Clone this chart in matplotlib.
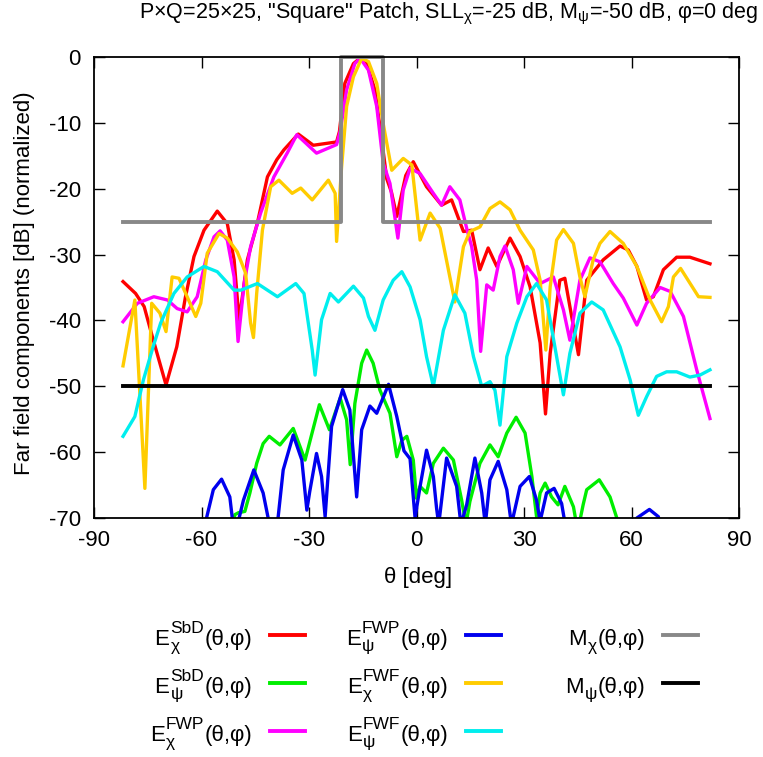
import matplotlib
matplotlib.use("Agg")
import matplotlib.pyplot as plt
from matplotlib.lines import Line2D

plt.rcParams['font.family'] = ['Liberation Sans', 'DejaVu Sans']
plt.rcParams['mathtext.fontset'] = 'custom'
plt.rcParams['mathtext.rm'] = 'Liberation Sans'
plt.rcParams['mathtext.it'] = 'Liberation Sans'
plt.rcParams['axes.unicode_minus'] = False

# far field cuts, theta [deg] vs normalized level [dB]
th_chi_sbd = [-81.9, -78.4, -76.0, -73.7, -69.9, -66.9, -64.5, -62.1, -59.3, -55.6, -52.8, -50.9,
              -49.5, -47.2, -44.4, -41.6, -39.0, -37.0, -33.0, -28.8, -22.3, -21.5, -20.0, -17.6,
              -15.8, -13.9, -11.6, -9.7, -8.3, -7.0, -5.5, -3.0, -0.9, 2.8, 7.0, 9.8, 13.1, 15.4,
              17.7, 20.0, 22.4, 26.1, 28.9, 31.7, 34.5, 36.0, 37.3, 40.0, 41.4, 45.2, 47.5, 52.1,
              56.8, 59.1, 61.5, 64.2, 66.1, 68.9, 72.6, 76.3, 81.9]
db_chi_sbd = [-34.1, -35.9, -37.9, -42.5, -49.8, -44.0, -36.5, -30.3, -26.3, -23.4, -25.3, -30.8,
              -40.0, -30.8, -25.2, -18.2, -15.6, -14.1, -11.7, -13.4, -12.9, -11.3, -4.0, -1.0,
              -0.2, -1.0, -5.0, -12.6, -18.5, -20.5, -24.2, -18.0, -15.9, -19.7, -22.5, -21.7, -26.5,
              -26.3, -32.3, -29.0, -31.8, -27.5, -30.3, -34.9, -43.4, -54.2, -45.0, -33.9, -33.6,
              -45.2, -33.9, -30.8, -28.7, -29.3, -31.8, -36.9, -36.4, -32.3, -30.4, -30.4, -31.4]

th_psi_sbd = [-52.0, -50.7, -49.7, -47.9, -46.5, -44.6, -42.8, -41.1, -38.1, -34.4, -31.1, -27.1,
              -24.3, -21.3, -19.5, -18.5, -17.2, -15.3, -13.9, -12.1, -10.2, -7.4, -5.5, -4.1, -2.7,
              -0.9, 0.0, 1.0, 2.8, 4.7, 7.5, 10.3, 12.6, 13.8, 14.9, 17.7, 20.5, 22.8, 25.2, 27.8,
              30.3, 32.2, 33.5, 34.5, 35.9, 37.7, 39.5, 41.4, 43.8, 45.0, 46.5, 47.5, 51.0, 54.0,
              55.9, 57.0]
db_psi_sbd = [-74.0, -69.5, -69.2, -69.0, -66.2, -61.7, -58.7, -57.6, -58.9, -56.4, -61.2, -52.8,
              -56.6, -51.8, -55.1, -61.9, -52.6, -46.5, -44.5, -46.5, -50.6, -54.1, -60.7, -58.2,
              -57.6, -61.2, -67.0, -65.2, -66.2, -61.7, -59.4, -61.2, -67.3, -71.0, -67.5, -61.7,
              -58.9, -60.7, -57.1, -54.7, -57.1, -63.7, -69.8, -66.2, -64.7, -66.8, -68.0, -65.2,
              -68.3, -72.0, -68.0, -65.7, -64.2, -66.8, -70.0, -75.0]

th_chi_fwp = [-81.9, -77.9, -73.3, -69.5, -66.8, -64.0, -61.2, -58.8, -56.5, -54.8, -52.8, -50.9,
              -49.8, -48.1, -46.3, -43.5, -39.8, -36.1, -33.4, -27.9, -22.3, -21.3, -19.5, -17.2,
              -15.7, -13.4, -11.1, -9.3, -7.4, -5.2, -3.7, -1.8, 1.0, 4.7, 7.0, 9.3, 12.1, 14.0,
              15.4, 16.8, 17.9, 19.6, 21.4, 23.3, 24.7, 27.0, 28.4, 30.8, 34.5, 38.2, 41.0, 42.8,
              45.6, 48.4, 51.2, 54.9, 57.7, 61.5, 64.2, 68.0, 70.8, 74.5, 78.2, 81.9]
db_chi_fwp = [-40.2, -37.4, -36.4, -36.9, -38.2, -38.7, -36.4, -30.8, -27.3, -26.4, -27.8, -33.4,
              -43.2, -34.4, -28.8, -23.7, -18.2, -14.6, -11.8, -14.6, -13.3, -11.3, -5.0, -1.0,
              -0.2, -2.0, -7.5, -16.1, -19.2, -27.5, -20.2, -16.9, -17.7, -20.7, -22.5, -19.7,
              -21.7, -26.0, -28.8, -33.9, -44.7, -34.6, -35.4, -30.3, -28.7, -32.3, -37.4, -31.8,
              -34.4, -33.4, -38.4, -43.0, -33.9, -30.5, -31.1, -34.4, -36.6, -40.7, -37.4, -35.0,
              -35.6, -39.4, -47.5, -54.9]

th_psi_fwp = [-60.0, -58.6, -56.7, -54.4, -52.1, -51.3, -50.5, -49.5, -48.3, -45.4, -42.8, -41.4,
              -40.0, -38.6, -37.2, -34.4, -32.0, -30.6, -29.8, -27.9, -26.5, -25.5, -23.7, -20.6,
              -18.6, -16.7, -15.3, -13.0, -11.1, -7.8, -5.5, -3.5, -1.8, -0.4, 1.0, 2.8, 4.7, 5.6,
              6.2, 8.4, 11.2, 12.4, 14.0, 16.3, 18.2, 19.2, 20.5, 22.8, 25.2, 26.5, 28.9, 31.5,
              33.5, 34.5, 36.3, 38.4, 40.5, 41.5, 43.0, 58.0, 61.5, 65.0, 67.5, 69.0, 81.9]
db_psi_fwp = [-76.0, -70.0, -65.7, -64.1, -66.8, -70.5, -72.0, -70.0, -67.3, -62.7, -66.2, -70.0,
              -73.0, -69.8, -62.7, -57.4, -61.2, -68.8, -66.0, -60.2, -63.7, -69.8, -56.1, -50.5,
              -53.6, -66.8, -56.6, -53.0, -54.1, -49.7, -54.6, -59.8, -61.0, -70.0, -65.2, -59.7,
              -63.7, -68.5, -71.0, -60.9, -65.2, -71.0, -68.0, -60.9, -66.2, -71.0, -64.2, -61.4,
              -65.7, -71.0, -65.2, -63.7, -67.3, -70.5, -66.2, -65.5, -67.8, -71.0, -76.0, -76.0,
              -70.0, -68.7, -69.8, -76.0, -78.0]

th_chi_fwf = [-81.9, -78.6, -75.8, -73.9, -71.6, -69.9, -68.2, -66.3, -64.0, -61.6, -60.2, -58.4,
              -55.1, -52.8, -50.0, -47.7, -46.3, -45.5, -44.6, -43.0, -40.7, -38.4, -34.7, -32.3,
              -29.1, -24.6, -22.7, -22.3, -20.9, -19.5, -17.6, -15.3, -13.4, -11.1, -9.3, -6.9,
              -3.7, -1.3, 1.0, 3.8, 6.6, 8.9, 10.7, 13.1, 14.9, 17.7, 20.5, 23.3, 26.1, 28.9, 32.6,
              34.5, 36.1, 37.3, 39.1, 41.0, 43.8, 45.6, 47.0, 49.3, 51.2, 54.0, 57.7, 61.5, 65.2,
              68.4, 70.3, 71.7, 73.7, 78.7, 81.9]
db_chi_fwf = [-46.9, -36.9, -65.5, -37.4, -38.9, -41.7, -33.4, -33.6, -36.4, -39.4, -37.4, -29.8,
              -26.8, -27.5, -29.6, -32.8, -40.4, -42.6, -35.9, -26.3, -19.7, -18.7, -20.7, -19.9,
              -21.7, -18.7, -20.7, -28.0, -16.7, -7.5, -3.0, -0.2, -0.7, -4.0, -10.1, -17.2, -15.4,
              -16.4, -27.8, -23.7, -26.0, -32.3, -37.2, -28.8, -26.5, -25.8, -23.0, -22.0, -23.2,
              -26.3, -29.3, -33.9, -44.5, -34.9, -27.8, -26.2, -28.3, -33.4, -36.4, -30.8, -28.3,
              -26.5, -28.3, -31.8, -36.9, -40.2, -37.9, -33.4, -32.1, -36.4, -36.5]

th_psi_fwf = [-81.9, -78.6, -76.2, -73.5, -71.4, -67.7, -64.0, -59.3, -55.6, -50.9, -49.0, -44.4,
              -38.8, -33.7, -31.4, -29.1, -28.3, -26.5, -24.1, -21.8, -17.6, -14.8, -13.4, -11.6,
              -9.3, -6.5, -4.1, -1.8, 1.0, 2.8, 4.7, 7.5, 10.7, 13.5, 15.9, 18.2, 20.5, 21.9, 23.3,
              25.2, 28.0, 30.8, 33.5, 36.3, 39.1, 41.0, 42.8, 45.6, 48.9, 52.1, 56.8, 59.6, 61.9,
              64.2, 67.0, 69.8, 72.6, 76.3, 79.1, 81.9]
db_psi_fwf = [-57.6, -54.6, -49.0, -44.0, -40.4, -35.9, -33.4, -31.8, -32.6, -35.4, -35.4, -34.4,
              -36.4, -34.4, -35.9, -44.5, -48.3, -39.9, -35.9, -37.2, -34.8, -36.6, -39.4, -41.5,
              -36.9, -33.9, -32.6, -34.9, -39.9, -45.5, -50.0, -41.5, -36.1, -38.9, -45.5, -50.0,
              -49.3, -50.6, -55.9, -45.5, -40.4, -36.4, -34.4, -36.9, -45.5, -51.3, -45.0, -38.9,
              -37.2, -38.4, -44.0, -49.0, -54.4, -51.6, -48.5, -47.8, -47.8, -48.6, -48.3, -47.5]

# masks
th_mask_chi = [-81.9, -21.1, -21.1, -9.3, -9.3, 81.9]
db_mask_chi = [-25, -25, 0, 0, -25, -25]
th_mask_psi = [-81.9, 81.9]
db_mask_psi = [-50, -50]

# (theta, dB, colour, base letter, superscript, subscript)
curves = [
    (th_chi_sbd, db_chi_sbd, '#ff0000', 'E', 'SbD', 'χ'),
    (th_psi_sbd, db_psi_sbd, '#00ee00', 'E', 'SbD', 'ψ'),
    (th_chi_fwp, db_chi_fwp, '#ff00ff', 'E', 'FWP', 'χ'),
    (th_psi_fwp, db_psi_fwp, '#0000ee', 'E', 'FWP', 'ψ'),
    (th_chi_fwf, db_chi_fwf, '#ffcc00', 'E', 'FWF', 'χ'),
    (th_psi_fwf, db_psi_fwf, '#00eeee', 'E', 'FWF', 'ψ'),
]
masks = [
    (th_mask_chi, db_mask_chi, '#888888', 'M', '', 'χ'),
    (th_mask_psi, db_mask_psi, '#000000', 'M', '', 'ψ'),
]

W, H = 763, 757
FS = 16
fig = plt.figure(figsize=(W / 100, H / 100), dpi=100)
ax = fig.add_axes([94 / W, 1 - 518 / H, (739 - 94) / W, (518 - 57) / H])

for th, db, c, *_ in curves:
    ax.plot(th, db, color=c, lw=2.4)
for th, db, c, *_ in masks:
    ax.plot(th, db, color=c, lw=2.8, clip_on=False)

ax.set_xlim(-90, 90)
ax.set_ylim(-70, 0)
ax.set_xticks(range(-90, 91, 30))
ax.set_yticks(range(-70, 1, 10))
ax.tick_params(direction='in', length=8, width=1, top=True, right=True, labelsize=FS)
ax.tick_params(axis='x', pad=9)
ax.tick_params(axis='y', pad=9.5)
for s in ax.spines.values():
    s.set_linewidth(1.3)

fig.text(418 / W, 1 - 578 / H, 'θ [deg]', ha='center', va='center', fontsize=FS)
fig.text(25 / W, 1 - 283 / H, 'Far field components [dB] (normalized)',
         ha='center', va='center', rotation=90, fontsize=FS)
fig.text(449 / W, 1 - 14 / H,
         'P×Q=25×25, "Square" Patch, SLL$_\\mathregular{χ}$=-25 dB, '
         'M$_\\mathregular{ψ}$=-50 dB, φ=0 deg',
         ha='center', va='center', fontsize=15.5)

# legend below the axes: label right-aligned, sample line after it
renderer = fig.canvas.get_renderer()


def put(x, y, s, size):
    t = fig.text(x / W, 1 - y / H, s, ha='left', va='baseline', fontsize=size)
    return t, t.get_window_extent(renderer).width


entries = curves + masks
col_text_right = [252, 448, 645]
row_base = [645, 693, 741]
for i, (th, db, c, base, sup, sub) in enumerate(entries):
    col, row = divmod(i, 3)
    xr = col_text_right[col]
    yb = row_base[row]
    t_base, w_base = put(0, yb, base, FS)
    t_sup, w_sup = put(0, yb - 12, sup, 12.5)
    t_sub, w_sub = put(0, yb + 6, sub, 12.5)
    t_arg, w_arg = put(0, yb, '(θ,φ)', FS)
    x0 = xr - (w_base + max(w_sup, w_sub) + w_arg + 1)
    t_base.set_x(x0 / W)
    t_sup.set_x((x0 + w_base + 1) / W)
    t_sub.set_x((x0 + w_base + 1) / W)
    t_arg.set_x((x0 + w_base + max(w_sup, w_sub) + 1) / W)
    ym = yb - 10
    fig.add_artist(Line2D([(xr + 18) / W, (xr + 53) / W], [1 - ym / H, 1 - ym / H],
                          color=c, lw=2.8, transform=fig.transFigure))

fig.savefig('out.png', dpi=100)
